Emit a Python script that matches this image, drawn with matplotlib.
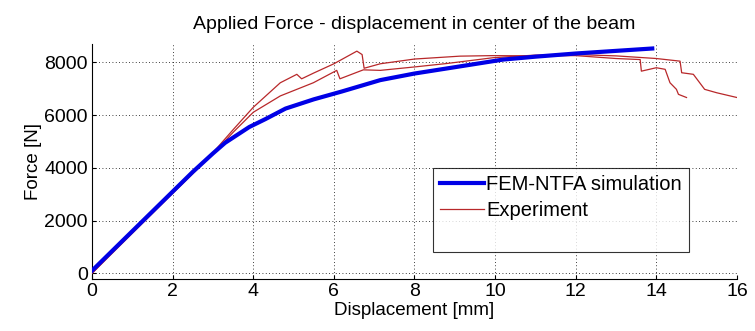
import matplotlib
matplotlib.use('Agg')
import matplotlib.pyplot as plt
from matplotlib.lines import Line2D

plt.rcParams['font.family'] = ['Liberation Sans', 'DejaVu Sans']

# FEM-NTFA simulation (displacement [mm], force [N])
sim_disp  = [0, 0.5, 1, 1.5, 2, 2.5, 3, 3.3, 3.6, 3.9, 4.3, 4.8, 5.5, 6.2, 7.15, 8, 9, 10.2, 11, 12, 13, 13.9]
sim_force = [100, 850, 1600, 2350, 3100, 3850, 4550, 4950, 5250, 5550, 5850, 6250, 6600, 6900, 7330, 7580, 7820, 8110, 8220, 8340, 8440, 8530]

# Experiment, specimen 1
exp1_disp  = [0, 0.5, 1, 2, 3, 3.5, 4.0, 4.67, 5.08, 5.2, 5.5, 6.0, 6.57, 6.7, 6.75, 7.15, 8.0, 9.13, 9.95, 11, 12, 13, 13.6, 13.63, 14.0, 14.22, 14.34, 14.5, 14.55, 14.75]
exp1_force = [0, 800, 1560, 3070, 4580, 5450, 6300, 7230, 7550, 7380, 7600, 7950, 8430, 8300, 7780, 7950, 8130, 8240, 8260, 8250, 8260, 8150, 8110, 7670, 7800, 7740, 7230, 6980, 6790, 6670]

# Experiment, specimen 2
exp2_disp  = [0, 0.5, 1, 2, 3, 3.5, 4.0, 4.67, 5.49, 6.07, 6.15, 6.73, 7.15, 8, 8.8, 9.95, 11, 12, 13, 14, 14.59, 14.63, 14.92, 15.2, 15.5, 16]
exp2_force = [0, 760, 1520, 3030, 4530, 5350, 6110, 6730, 7230, 7700, 7380, 7720, 7700, 7830, 7960, 8180, 8280, 8300, 8250, 8150, 8050, 7610, 7550, 6980, 6850, 6670]

fig = plt.figure(figsize=(7.55, 3.31), dpi=100)
ax = fig.add_axes([0.122, 0.157, 0.854, 0.71])

red = '#b8282a'
ax.plot(exp1_disp, exp1_force, color=red, linewidth=0.9, zorder=3)
ax.plot(exp2_disp, exp2_force, color=red, linewidth=0.9, zorder=3)
ax.plot(sim_disp, sim_force, color='#0000e6', linewidth=3, zorder=4)

ax.set_xlim(0, 16)
ax.set_ylim(-220, 8700)
ax.set_xticks(range(0, 17, 2))
ax.set_yticks(range(0, 8001, 2000))
ax.grid(True, linestyle=(0, (1, 3)), color='black', linewidth=0.6)
ax.spines['top'].set_visible(False)
ax.spines['right'].set_visible(False)
ax.tick_params(direction='in', length=3, labelsize=14, pad=3)

ax.set_title('Applied Force - displacement in center of the beam', fontsize=14, pad=11)
ax.set_xlabel('Displacement [mm]', fontsize=13.5, labelpad=1)
ax.set_ylabel('Force [N]', fontsize=13.5, labelpad=2)

# Legend (empty third row keeps the tall box)
handles = [Line2D([], [], color='#0000e6', linewidth=3),
           Line2D([], [], color=red, linewidth=0.9),
           Line2D([], [], linewidth=0)]
leg = ax.legend(handles, ['FEM-NTFA simulation', 'Experiment', ' '],
                loc='upper left', bbox_to_anchor=(0.5287, 0.472),
                fontsize=14.5, fancybox=False, edgecolor='black',
                handlelength=2.2, handletextpad=0.1, borderpad=0.35,
                labelspacing=0.33, borderaxespad=0)
leg.get_frame().set_linewidth(0.8)

plt.savefig('out.png', dpi=100)
